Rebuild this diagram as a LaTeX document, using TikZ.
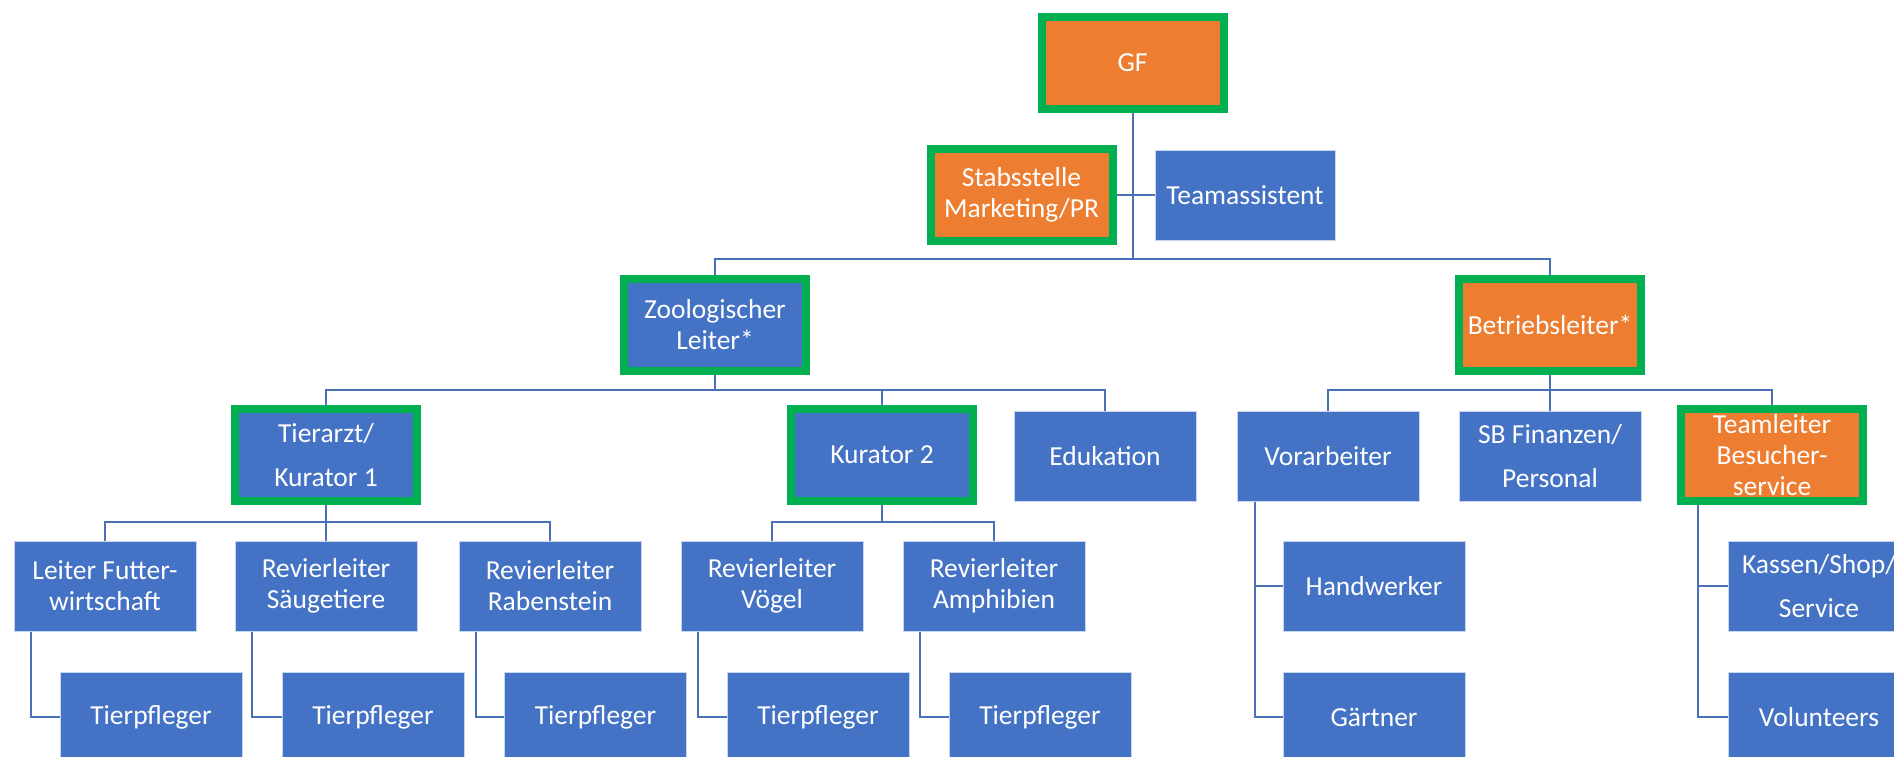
\documentclass[tikz,border=0pt]{standalone}
\usepackage{fontspec}
\setmainfont{Carlito}
\definecolor{obl}{HTML}{4472C4}
\definecolor{oor}{HTML}{ED7D31}
\definecolor{ogr}{HTML}{00B050}
\definecolor{oln}{HTML}{4A70B8}
\tikzset{
  box/.style={rectangle, minimum width=182pt, minimum height=90pt, inner sep=0pt,
    align=center, text=white, font=\fontsize{27.5}{31}\selectfont,
    draw=white!70!obl, line width=1pt, fill=obl},
  orbox/.style={box, fill=oor},
  gbox/.style={minimum height=92pt, draw=ogr, line width=8pt},
  conn/.style={draw=oln, line width=2pt},
}
\begin{document}
\begin{tikzpicture}[x=1pt,y=-1pt]
\useasboundingbox (0,0) rectangle (1894,757);
% level 0/1
\node[orbox,gbox] (gf) at (1132.5,63) {GF};
\node[orbox,gbox] (stab) at (1021.5,195) {Stabsstelle\\Marketing/PR};
\node[box,minimum width=180pt] (team) at (1245,195) {Teamassistent};
% level 2
\node[box,gbox] (zool) at (715,324.5) {Zoologischer\\Leiter*};
\node[orbox,gbox] (betr) at (1550,324.5) {Betriebsleiter*};
% level 3
\node[box,gbox] (tier) at (326,455) {Tierarzt/\\[13pt]Kurator 1};
\node[box,gbox] (kur) at (882,455) {Kurator 2};
\node[box] (edu) at (1105,456) {Edukation};
\node[box] (vor) at (1328,456) {Vorarbeiter};
\node[box] (sb) at (1550,456) {SB Finanzen/\\[13pt]Personal};
\node[orbox,gbox] (tl) at (1772,455) {Teamleiter\\Besucher-\\service};
% level 4
\node[box] (fut) at (105,586) {Leiter Futter-\\wirtschaft};
\node[box] (saeu) at (326,586) {Revierleiter\\Säugetiere};
\node[box] (rab) at (550,586) {Revierleiter\\Rabenstein};
\node[box] (voe) at (772,586) {Revierleiter\\Vögel};
\node[box] (amph) at (994,586) {Revierleiter\\Amphibien};
\node[box] (hand) at (1374,586) {Handwerker};
\node[box] (kas) at (1819,586) {Kassen/Shop/\\[13pt]Service};
% level 5
\node[box] (tp1) at (151,717) {Tierpfleger};
\node[box] (tp2) at (373,717) {Tierpfleger};
\node[box] (tp3) at (595.5,717) {Tierpfleger};
\node[box] (tp4) at (818,717) {Tierpfleger};
\node[box] (tp5) at (1040,717) {Tierpfleger};
\node[box] (gaer) at (1374,717) {Gärtner};
\node[box] (vol) at (1819,717) {Volunteers};
% connectors
\draw[conn] (gf.south) -- ++(0,146) coordinate (j0);
\draw[conn] (stab.east) -- (team.west);
\draw[conn] (zool.north) |- (j0) -| (betr.north);
\draw[conn] (zool.south) -- ++(0,15.5) coordinate (j1);
\draw[conn] (tier.north) |- (j1) -| (edu.north);
\draw[conn] (kur.north) |- (j1);
\draw[conn] (betr.south) -- ++(0,15.5) coordinate (j2);
\draw[conn] (vor.north) |- (j2) -| (tl.north);
\draw[conn] (sb.north) -- (j2);
\draw[conn] (tier.south) -- ++(0,16.5) coordinate (j3);
\draw[conn] (fut.north) |- (j3) -| (rab.north);
\draw[conn] (saeu.north) -- (j3);
\draw[conn] (kur.south) -- ++(0,16.5) coordinate (j4);
\draw[conn] (voe.north) |- (j4) -| (amph.north);
\draw[conn] ([xshift=17pt]fut.south west) |- (tp1.west);
\draw[conn] ([xshift=17pt]saeu.south west) |- (tp2.west);
\draw[conn] ([xshift=17pt]rab.south west) |- (tp3.west);
\draw[conn] ([xshift=17pt]voe.south west) |- (tp4.west);
\draw[conn] ([xshift=17pt]amph.south west) |- (tp5.west);
\draw[conn] ([xshift=18pt]vor.south west) |- (hand.west);
\draw[conn] ([xshift=18pt]vor.south west) |- (gaer.west);
\draw[conn] ([xshift=21pt]tl.south west) |- (kas.west);
\draw[conn] ([xshift=21pt]tl.south west) |- (vol.west);
\end{tikzpicture}
\end{document}
